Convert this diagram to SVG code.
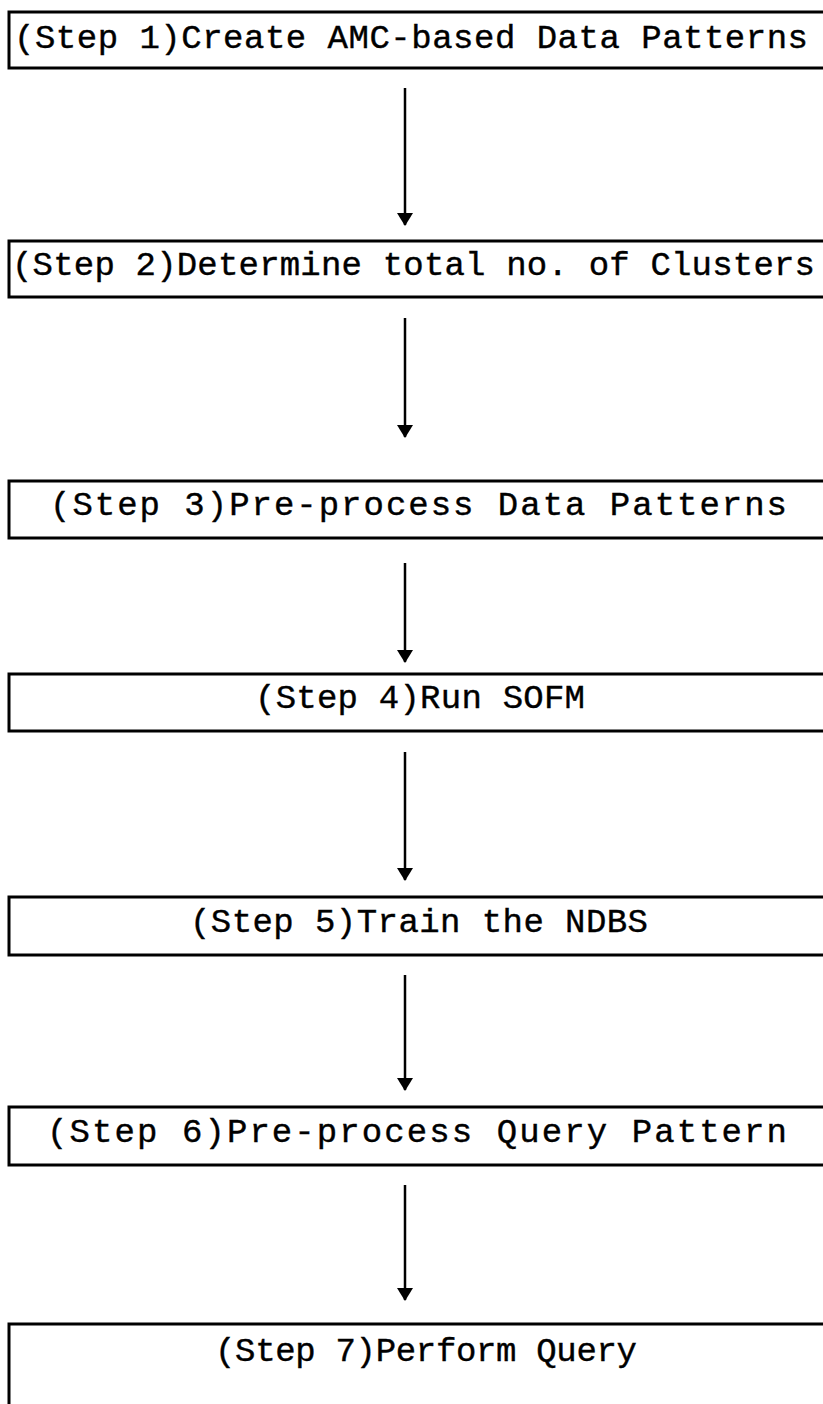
<svg xmlns="http://www.w3.org/2000/svg" width="823" height="1404" viewBox="0 0 823 1404">
<style>
.box{fill:#fff;stroke:#000;stroke-width:3}
.lbl{font-family:"Liberation Mono","Courier New",monospace;font-size:34px;fill:#000;stroke:#000;stroke-width:0.4}
.con{stroke:#000;stroke-width:2.5;fill:none}
</style>
<defs>
<marker id="ah" markerWidth="13" markerHeight="16" refX="12" refY="8" orient="auto" markerUnits="userSpaceOnUse">
<path d="M0,0 L13,8 L0,16 Z" fill="#000"/>
</marker>
</defs>
<rect width="823" height="1404" fill="#fff"/>
<g id="connectors">
<line class="con" x1="405" y1="88" x2="405" y2="225" marker-end="url(#ah)"/>
<line class="con" x1="405" y1="318" x2="405" y2="437" marker-end="url(#ah)"/>
<line class="con" x1="405" y1="563" x2="405" y2="662" marker-end="url(#ah)"/>
<line class="con" x1="405" y1="752" x2="405" y2="880" marker-end="url(#ah)"/>
<line class="con" x1="405" y1="975" x2="405" y2="1090" marker-end="url(#ah)"/>
<line class="con" x1="405" y1="1185" x2="405" y2="1300" marker-end="url(#ah)"/>
</g>
<g id="step1"><rect class="box" x="9" y="12" width="830" height="56"/><text class="lbl" x="14" y="48" textLength="794" lengthAdjust="spacing">(Step 1)Create AMC-based Data Patterns</text></g>
<g id="step2"><rect class="box" x="9" y="241" width="830" height="56"/><text class="lbl" x="12" y="275" textLength="803" lengthAdjust="spacing">(Step 2)Determine total no. of Clusters</text></g>
<g id="step3"><rect class="box" x="9" y="481" width="830" height="57"/><text class="lbl" x="50" y="515" textLength="737" lengthAdjust="spacing">(Step 3)Pre-process Data Patterns</text></g>
<g id="step4"><rect class="box" x="9" y="674" width="830" height="57"/><text class="lbl" x="255" y="708" textLength="330" lengthAdjust="spacing">(Step 4)Run SOFM</text></g>
<g id="step5"><rect class="box" x="9" y="897" width="830" height="58"/><text class="lbl" x="190" y="932" textLength="458" lengthAdjust="spacing">(Step 5)Train the NDBS</text></g>
<g id="step6"><rect class="box" x="9" y="1107" width="830" height="58"/><text class="lbl" x="47" y="1142" textLength="740" lengthAdjust="spacing">(Step 6)Pre-process Query Pattern</text></g>
<g id="step7"><rect class="box" x="9" y="1324" width="830" height="100"/><text class="lbl" x="215" y="1361" textLength="422" lengthAdjust="spacing">(Step 7)Perform Query</text></g>
</svg>
